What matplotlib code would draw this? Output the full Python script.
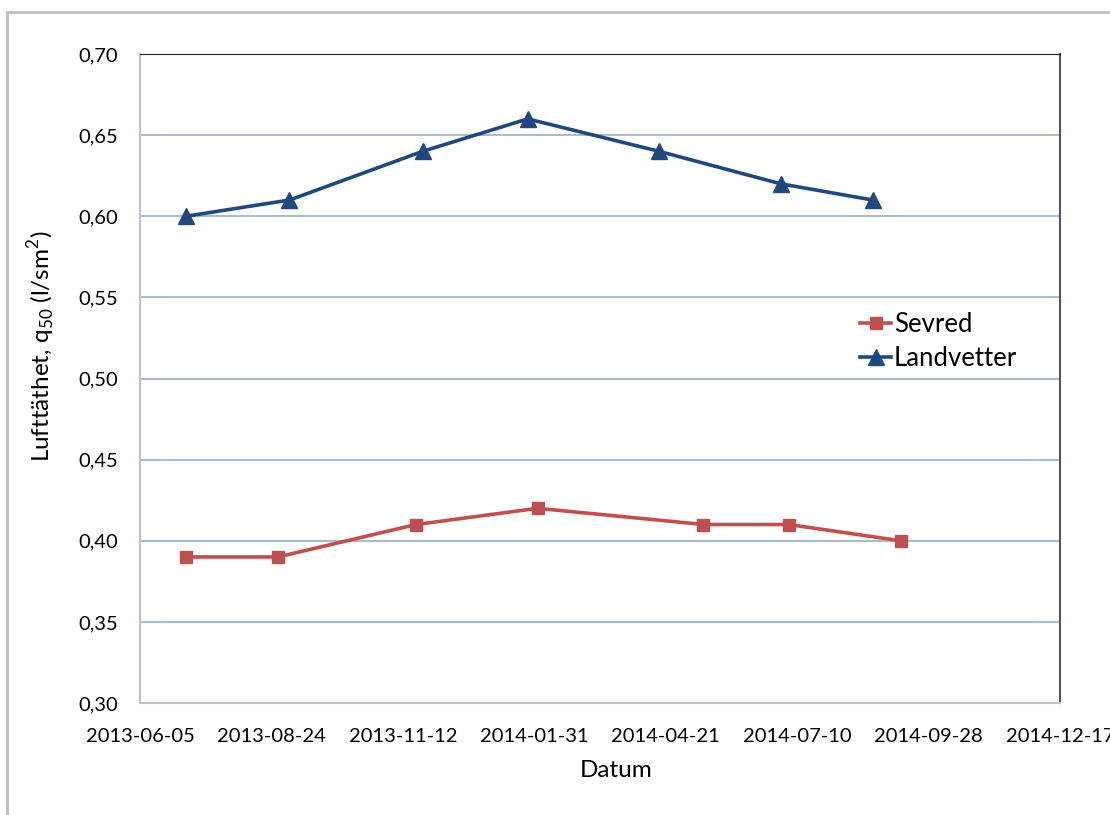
import matplotlib.pyplot as plt
import matplotlib.dates as mdates
import pandas as pd
from matplotlib.patches import Rectangle

plt.rcParams['font.family'] = ['Lato', 'DejaVu Sans']

# mätdatum och lufttäthet q50
sevred_dates = ['2013-07-03', '2013-08-28', '2013-11-20', '2014-02-02',
                '2014-05-14', '2014-07-05', '2014-09-11']
sevred_q50 = [0.39, 0.39, 0.41, 0.42, 0.41, 0.41, 0.40]

landvetter_dates = ['2013-07-03', '2013-09-04', '2013-11-24', '2014-01-27',
                    '2014-04-17', '2014-06-30', '2014-08-25']
landvetter_q50 = [0.60, 0.61, 0.64, 0.66, 0.64, 0.62, 0.61]

x_start, x_end = '2013-06-05', '2014-12-17'
y_ticks = [0.30, 0.35, 0.40, 0.45, 0.50, 0.55, 0.60, 0.65, 0.70]

fig = plt.figure(figsize=(11.1, 8.15), dpi=100)
fig.patches.append(Rectangle((7 / 1110, -0.1), 1.2, 1 - 12 / 815 + 0.1,
                             transform=fig.transFigure, fill=False,
                             edgecolor='#BFBFBF', linewidth=2))

ax = fig.add_axes([140 / 1110, 1 - 703 / 815, 920 / 1110, 649 / 815])

ax.plot(pd.to_datetime(sevred_dates), sevred_q50, color='#C0504D', lw=2.6,
        marker='s', ms=9, label='Sevred')
ax.plot(pd.to_datetime(landvetter_dates), landvetter_q50, color='#1F497D', lw=2.6,
        marker='^', ms=11.5, label='Landvetter')

ax.set_xlim(pd.Timestamp(x_start), pd.Timestamp(x_end))
ax.set_xticks(pd.date_range(x_start, x_end, freq='80D'))
ax.xaxis.set_major_formatter(mdates.DateFormatter('%Y-%m-%d'))

ax.set_ylim(0.30, 0.70)
ax.set_yticks(y_ticks)
ax.set_yticklabels([f'{v:.2f}'.replace('.', ',') for v in y_ticks])
ax.grid(axis='y', color='#8FA8C0', lw=1.1)
ax.set_axisbelow(True)

ax.tick_params(axis='both', length=0, labelsize=14.5, colors='black')
ax.tick_params(axis='x', pad=18)
ax.tick_params(axis='y', pad=16)

ax.spines['left'].set_color('#BFBFBF')
ax.spines['bottom'].set_color('#BFBFBF')
ax.spines['left'].set_linewidth(1.5)
ax.spines['bottom'].set_linewidth(1.5)
ax.spines['top'].set_color('#222222')
ax.spines['right'].set_color('#555555')
ax.spines['right'].set_linewidth(1.5)

ax.set_xlabel('Datum', fontsize=17.5)
ax.xaxis.set_label_coords(0.518, -0.088)
ax.set_ylabel(r'Lufttäthet, q$_{\mathregular{50}}$ (l/sm$^{\mathregular{2}}$)', fontsize=17.5)
ax.yaxis.set_label_coords(-0.089, 0.549)

ax.legend(loc='upper left', bbox_to_anchor=(0.783, 0.602), frameon=False,
          fontsize=18.5, handlelength=1.2, handletextpad=0.1, labelspacing=0.35,
          borderaxespad=0, borderpad=0)

fig.savefig('out.png', dpi=100)
